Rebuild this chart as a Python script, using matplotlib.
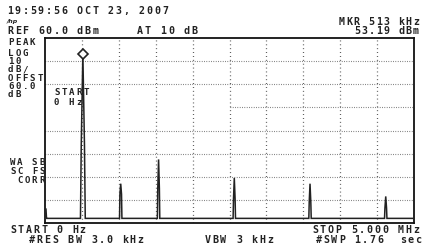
import matplotlib
matplotlib.use("Agg")
import matplotlib.pyplot as plt
from matplotlib.transforms import Affine2D

# screen geometry of the analyzer display (pixels)
W, H = 430, 252
GRID_L, GRID_R, GRID_T, GRID_B = 45, 414, 38, 223

# analyzer settings
freq_start_mhz, freq_stop_mhz = 0.0, 5.0
ref_dbm, db_per_div, n_ydiv, n_xdiv = 60.0, 10.0, 8, 10

# trace: harmonics of a 513 kHz signal
peak_freq_mhz = [0.513, 1.026, 1.539, 2.565, 3.591, 4.617]
peak_dbm = [53.19, -3.0, 7.5, -0.5, -3.0, -8.5]
shoulder_dbm = [14.0, -7.5, -5.0, -9.5, -11.0, -13.5]
floor_dbm = -18.0
lo_feedthrough_dbm = -14.0
mkr_freq_mhz, mkr_dbm = 0.513, 53.19

INK = "#222222"
GRID = "#4a4a4a"

fig = plt.figure(figsize=(W / 100, H / 100), dpi=100)
fig.patch.set_facecolor("white")
px = Affine2D().scale(1 / W, -1 / H).translate(0, 1) + fig.transFigure


def mono(x, y, s, pitch=7.75, align="left", size=7.2):
    """Screen text, one char at a time at a fixed pitch; y is the cap top."""
    cap = size * 0.95  # cap top to baseline, px
    if align == "right":
        x = x - (len(s) - 1) * pitch - 6.0
    for i, ch in enumerate(s):
        if ch == " ":
            continue
        fig.text(x + i * pitch, y + cap, ch, transform=px, ha="left",
                 va="baseline", family="DejaVu Sans Mono", fontsize=size,
                 fontweight="bold", color=INK)


ax = fig.add_axes([GRID_L / W, 1 - GRID_B / H,
                   (GRID_R - GRID_L) / W, (GRID_B - GRID_T) / H])
ax.set_xlim(freq_start_mhz, freq_stop_mhz)
bottom_dbm = ref_dbm - n_ydiv * db_per_div
ax.set_ylim(bottom_dbm, ref_dbm)
ax.set_xticks([])
ax.set_yticks([])
for sp in ax.spines.values():
    sp.set_linewidth(1.3)
    sp.set_color("#111111")

# graticule
xdiv = (freq_stop_mhz - freq_start_mhz) / n_xdiv
for k in range(1, n_xdiv):
    ax.axvline(freq_start_mhz + k * xdiv, color=GRID, lw=0.9,
               ls=(0, (0.7, 2.4)), zorder=1)
for k in range(1, n_ydiv):
    lvl = ref_dbm - k * db_per_div
    # the level line behind the START annotation is not drawn on screen
    x0 = freq_start_mhz + 5 * xdiv if k == 3 else freq_start_mhz
    ax.hlines(lvl, x0, freq_stop_mhz, color=GRID, lw=0.8,
              ls=(0, (0.6, 1.5)), zorder=1)

# build the trace polyline from the peak readings
bin_mhz = (freq_stop_mhz - freq_start_mhz) / (GRID_R - GRID_L)
tx = [freq_start_mhz + bin_mhz, freq_start_mhz + 1.5 * bin_mhz,
      freq_start_mhz + 2.5 * bin_mhz]
ty = [lo_feedthrough_dbm, floor_dbm, floor_dbm]
for i, (f, p, s) in enumerate(zip(peak_freq_mhz, peak_dbm, shoulder_dbm)):
    w = 2.0 if i == 0 else 1.0
    tx += [f - 1.2 * w * bin_mhz, f - 0.8 * w * bin_mhz, f,
           f + 0.8 * w * bin_mhz, f + 1.2 * w * bin_mhz]
    ty += [floor_dbm, s, p, s, floor_dbm]
tx.append(freq_stop_mhz)
ty.append(floor_dbm)
ax.plot(tx, ty, color=INK, lw=1.1, solid_joinstyle="miter", zorder=3)

ax.plot([mkr_freq_mhz], [mkr_dbm], marker="D", ms=5, mfc="white",
        mec=INK, mew=1.2, zorder=4)

# screen annotations
mono(7, 7, "19:59:56 OCT 23, 2007")
fig.text(7, 23, "/hp", transform=px, ha="left", va="baseline", fontsize=4.5,
         style="italic", fontweight="bold", color=INK)
mono(7, 27, "REF 60.0 dBm")
mono(137, 27, "AT 10 dB")
mono(419, 18, "MKR 513 kHz", pitch=7.4, align="right")
mono(419, 27, "53.19 dBm", pitch=7.4, align="right")

left_block = [("PEAK", 39), ("LOG", 50), ("10", 58), ("dB/", 66),
              ("OFFST", 75), ("60.0", 83), ("dB", 91)]
for s, y in left_block:
    mono(8, y, s, pitch=7.3, size=6.6)
mono(54, 89, "START", pitch=7.3, size=6.6)
mono(54, 99, "0 Hz", pitch=7.3, size=6.6)
mono(10, 159, "WA SB", pitch=7.3, size=6.6)
mono(10, 168, "SC FS", pitch=7.3, size=6.6)
mono(45, 177, "CORR", pitch=7.3, align="right", size=6.6)

mono(10, 226, "START 0 Hz")
mono(29, 236, "#RES BW 3.0 kHz")
mono(205, 236, "VBW 3 kHz")
mono(419, 226, "STOP 5.000 MHz", align="right")
mono(421, 236, "#SWP 1.76  sec", pitch=7.6, align="right")

fig.savefig("out.png", dpi=100, facecolor="white")
